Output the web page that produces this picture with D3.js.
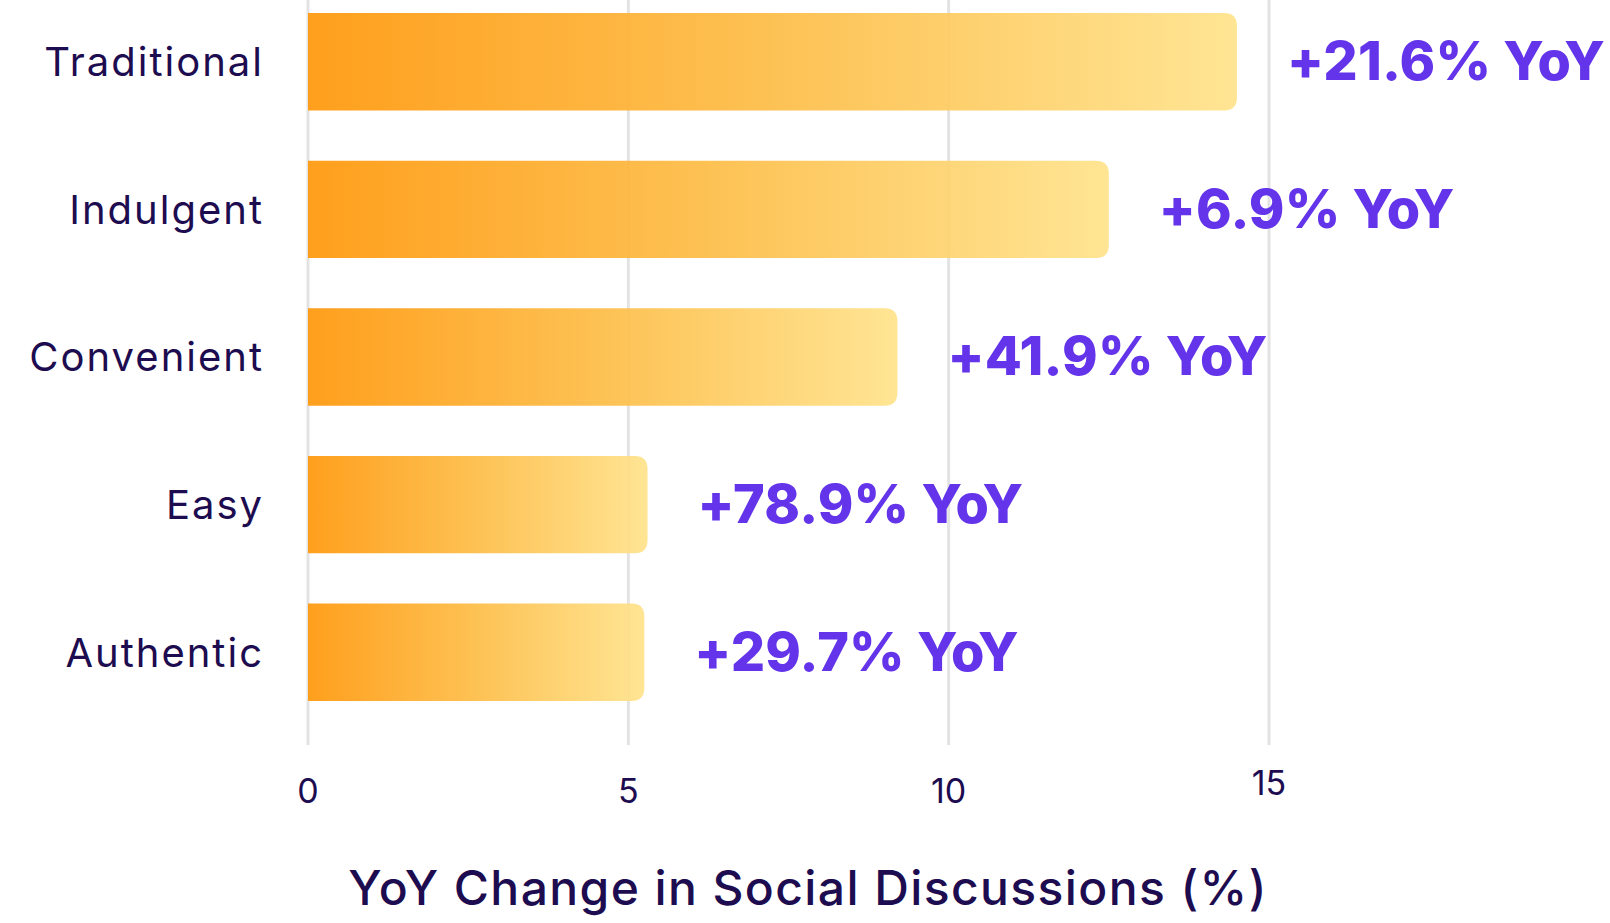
<!doctype html>
<html>
<head>
<meta charset="utf-8"/>
<title>YoY Change in Social Discussions</title>
<style>
body{margin:0;background:#fff;}
svg{display:block;}
</style>
<script src="https://d3js.org/d3.v7.min.js"></script>
</head>
<body>
<script>
// data
var categories = ["Traditional", "Indulgent", "Convenient", "Easy", "Authentic"];
var values = [14.5, 12.5, 9.2, 5.3, 5.25];
var yoyLabels = ["+21.6% YoY", "+6.9% YoY", "+41.9% YoY", "+78.9% YoY", "+29.7% YoY"];
var xTicks = [0, 5, 10, 15];
var axisTitle = "YoY Change in Social Discussions (%)";

var W = 1610, H = 923;
var navy = "#1d0c4f", purple = "#6334ea";
var font = "Inter, 'Noto Sans', sans-serif";

var svg = d3.select("body").append("svg")
    .attr("width", W)
    .attr("height", H);

var x = d3.scaleLinear().domain([0, 15]).range([308, 1269]);
var y = d3.scaleBand().domain(categories).range([-12, 726])
    .paddingInner(0.34).paddingOuter(0.17);

var defs = svg.append("defs");
var grad = defs.append("linearGradient").attr("id", "barGrad")
    .attr("x1", "0%").attr("x2", "100%").attr("y1", "0%").attr("y2", "0%");
grad.append("stop").attr("offset", "0%").attr("stop-color", "#ff980c");
grad.append("stop").attr("offset", "50%").attr("stop-color", "#fdbd47");
grad.append("stop").attr("offset", "100%").attr("stop-color", "#ffe38c");

// gridlines
svg.append("g").selectAll("line")
    .data(xTicks)
    .enter().append("line")
    .attr("x1", function(d){ return x(d); })
    .attr("x2", function(d){ return x(d); })
    .attr("y1", 0)
    .attr("y2", 745)
    .attr("stroke", "#e3e3e3")
    .attr("stroke-width", 3);

// bar with rounded right end
function barPath(d, i){
    var x0 = x(0), x1 = x(d), y0 = y(categories[i]), h = y.bandwidth(), r = 13;
    return "M" + x0 + "," + y0 +
        "H" + (x1 - r) +
        "Q" + x1 + "," + y0 + " " + x1 + "," + (y0 + r) +
        "V" + (y0 + h - r) +
        "Q" + x1 + "," + (y0 + h) + " " + (x1 - r) + "," + (y0 + h) +
        "H" + x0 + "Z";
}

svg.append("g").selectAll("path")
    .data(values)
    .enter().append("path")
    .attr("d", barPath)
    .attr("fill", "url(#barGrad)")
    .attr("opacity", 0.93);

// value labels
svg.append("g").selectAll("text")
    .data(yoyLabels)
    .enter().append("text")
    .attr("x", function(d, i){ return x(values[i]) + 50; })
    .attr("y", function(d, i){ return y(categories[i]) + y.bandwidth() / 2; })
    .attr("dy", "0.34em")
    .attr("font-family", font)
    .attr("font-weight", 800)
    .attr("font-size", 54)
    .attr("letter-spacing", "0.2")
    .attr("fill", purple)
    .text(function(d){ return d; });

// category labels
svg.append("g").selectAll("text")
    .data(categories)
    .enter().append("text")
    .attr("x", 264)
    .attr("y", function(d){ return y(d) + y.bandwidth() / 2; })
    .attr("dy", "0.36em")
    .attr("text-anchor", "end")
    .attr("font-family", font)
    .attr("font-size", 40)
    .attr("letter-spacing", "2")
    .attr("fill", navy)
    .text(function(d){ return d; });

// x tick labels
svg.append("g").selectAll("text")
    .data(xTicks)
    .enter().append("text")
    .attr("x", function(d){ return x(d); })
    .attr("y", function(d){ return d === 15 ? 795 : 803; })
    .attr("text-anchor", "middle")
    .attr("font-family", font)
    .attr("font-size", 34)
    .attr("fill", navy)
    .text(function(d){ return d; });

// axis title
svg.append("text")
    .attr("x", 808)
    .attr("y", 905)
    .attr("text-anchor", "middle")
    .attr("font-family", font)
    .attr("font-weight", 500)
    .attr("font-size", 48)
    .attr("letter-spacing", "1.4")
    .attr("fill", navy)
    .text(axisTitle);
</script>
</body>
</html>
